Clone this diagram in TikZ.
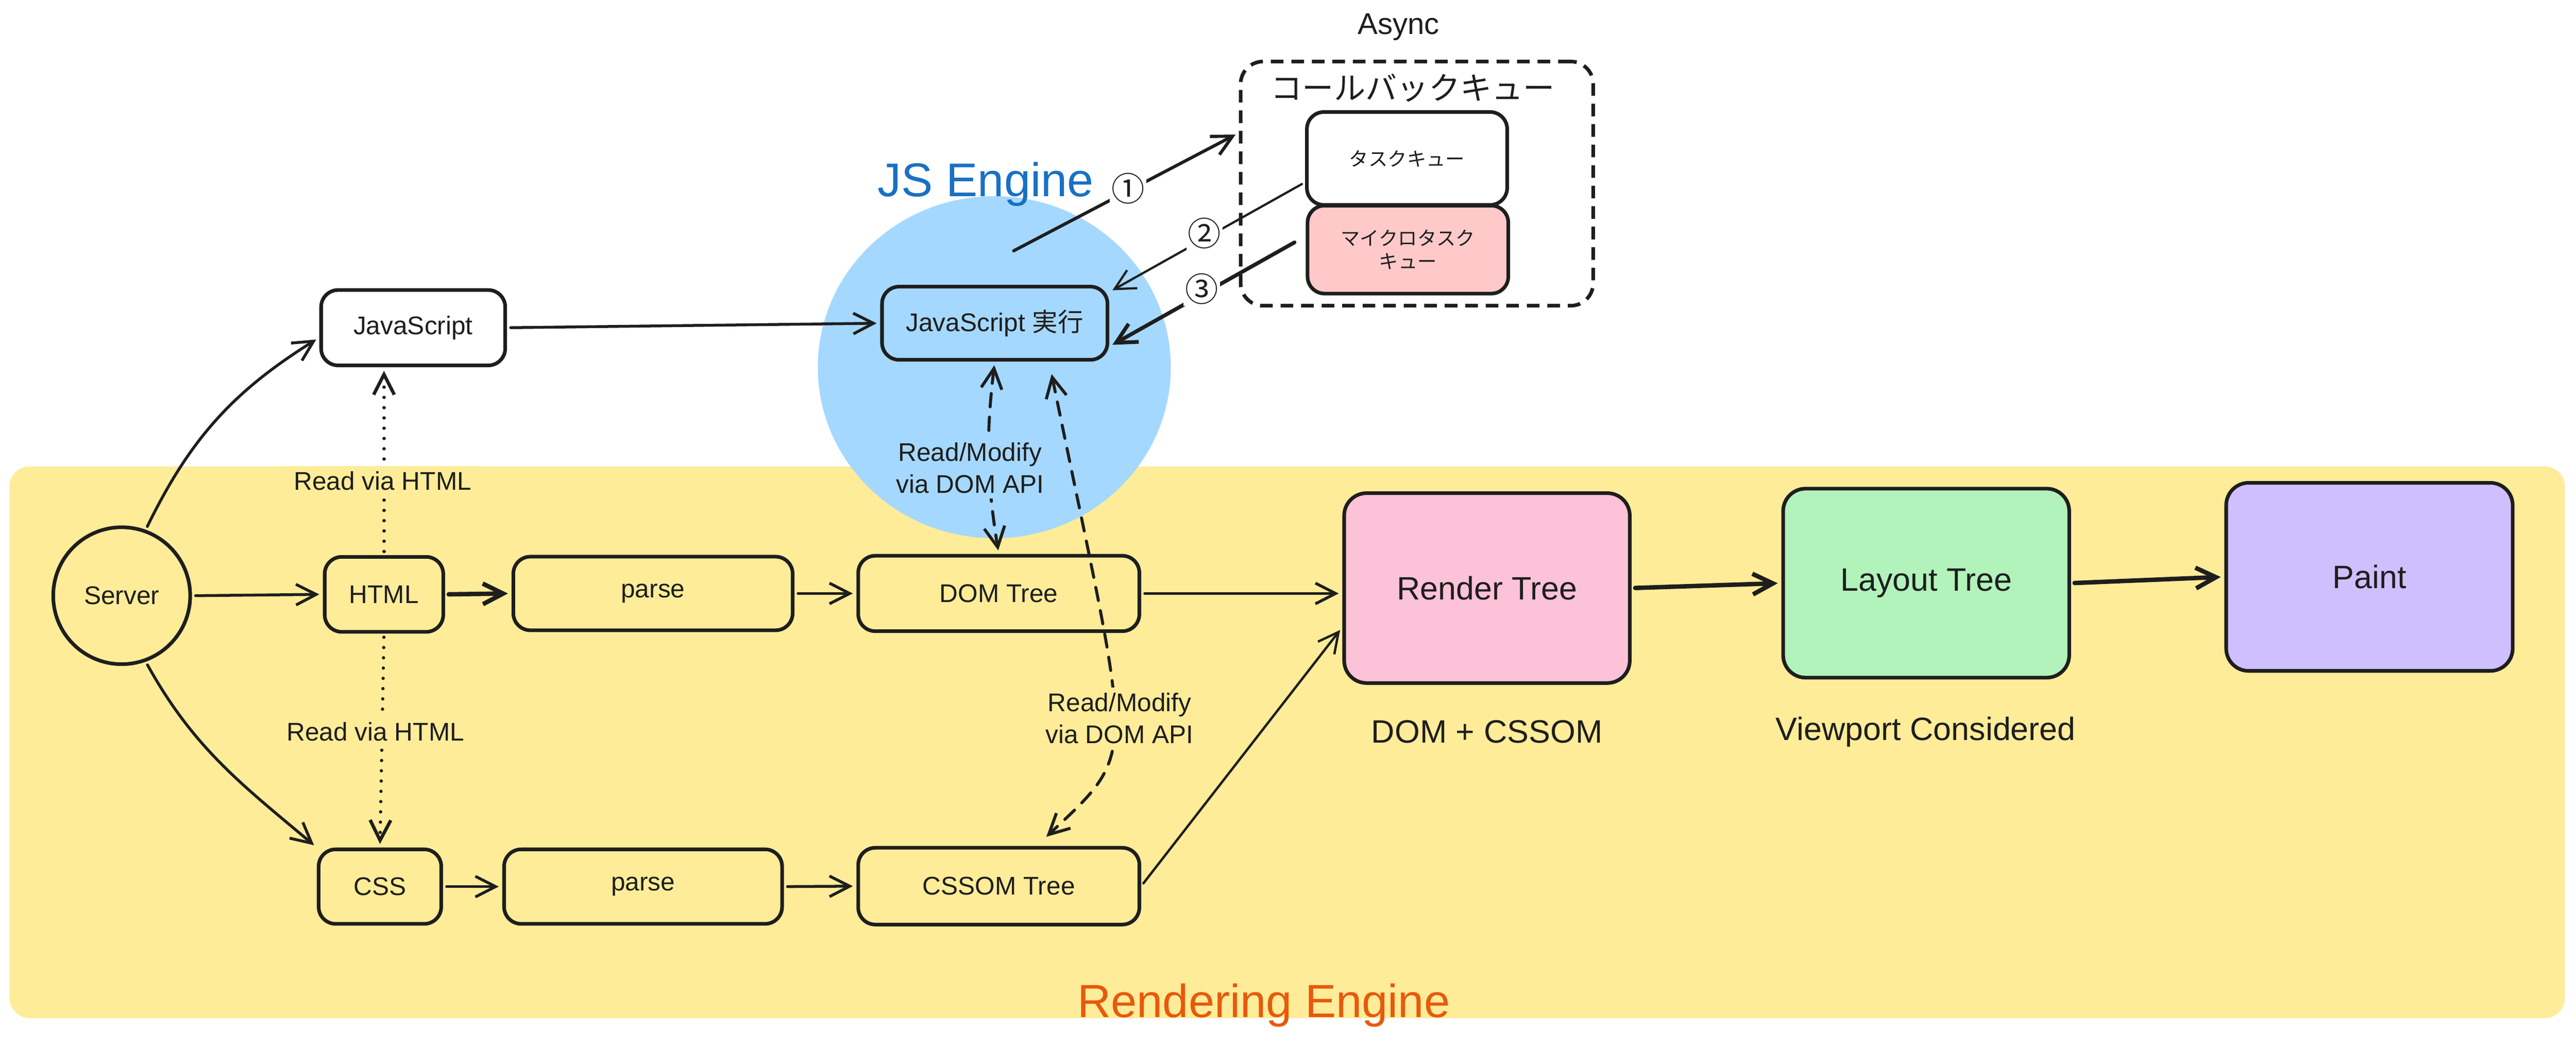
\documentclass[tikz,border=0pt]{standalone}
\usepackage{fontspec}
\setmainfont{Liberation Sans}
\newfontfamily\jp{Noto Sans CJK JP}
\usetikzlibrary{arrows.meta}

\definecolor{ink}{HTML}{1E1E1E}
\definecolor{bgyellow}{HTML}{FFEC99}
\definecolor{jsblue}{HTML}{A5D8FF}
\definecolor{jstext}{HTML}{1971C2}
\definecolor{rentext}{HTML}{E8590C}
\definecolor{micro}{HTML}{FFC9C9}
\definecolor{renderpink}{HTML}{FCC2D7}
\definecolor{layoutgreen}{HTML}{B2F2BB}
\definecolor{paintpurple}{HTML}{D0BFFF}

\begin{document}
\begin{tikzpicture}[
        >={Straight Barb[length=0.45cm, width=0.46cm]},
        every node/.style={text=ink},
        box/.style={draw=ink, line width=2.3pt, rounded corners=0.38cm, font=\fontsize{16.2}{19}\selectfont},
        bigbox/.style={box, rounded corners=0.5cm, font=\fontsize{20.5}{24}\selectfont},
        lbl/.style={font=\fontsize{16.2}{20.2}\selectfont, align=center, inner xsep=5pt, inner ysep=3.5pt},
        big/.style={font=\fontsize{20.5}{24}\selectfont},
        num/.style={font=\jp\fontsize{21}{24}\selectfont, fill=white, inner sep=1pt},
        arr/.style={draw=ink, line width=1.8pt, ->, line cap=round, line join=round, shorten <=0.08cm, shorten >=0.08cm},
        dotarr/.style={arr, line width=2.1pt, dash pattern=on 0.01pt off 6.5pt},
        dasharr/.style={arr, line width=1.9pt, dash pattern=on 8.5pt off 6.5pt}
    ]
        \useasboundingbox (0,0) rectangle (57.36,-23.34);

        % Hintergrund
        \fill[bgyellow, rounded corners=0.45cm] (0.21,-10.39) rectangle (57.11,-22.68);
        \fill[jsblue] (22.14,-8.18) ellipse [x radius=3.93, y radius=3.81];

        % Knoten
        \node[draw=ink, line width=2.3pt, circle, minimum size=3.05cm, inner sep=0pt, font=\fontsize{16.2}{19}\selectfont] (server) at (2.71,-13.27) {Server};
        \node[box, minimum width=4.10cm, minimum height=1.68cm] (js) at (9.20,-7.30) {JavaScript};
        \node[box, minimum width=2.64cm, minimum height=1.67cm] (html) at (8.55,-13.24) {HTML};
        \node[box, minimum width=6.22cm, minimum height=1.64cm] (parse1) at (14.54,-13.22) {parse};
        \node[box, minimum width=6.26cm, minimum height=1.68cm] (dom) at (22.24,-13.22) {DOM Tree};
        \node[box, minimum width=2.73cm, minimum height=1.66cm] (css) at (8.46,-19.75) {CSS};
        \node[box, minimum width=6.19cm, minimum height=1.66cm] (parse2) at (14.32,-19.75) {parse};
        \node[box, minimum width=6.26cm, minimum height=1.71cm] (cssom) at (22.24,-19.74) {CSSOM Tree};
        \node[bigbox, fill=renderpink, minimum width=6.36cm, minimum height=4.23cm] (render) at (33.11,-13.10) {Render Tree};
        \node[bigbox, fill=layoutgreen, minimum width=6.37cm, minimum height=4.21cm] (layout) at (42.89,-12.99) {Layout Tree};
        \node[bigbox, fill=paintpurple, minimum width=6.38cm, minimum height=4.19cm] (paint) at (52.76,-12.85) {Paint};
        \node[box, minimum width=5.02cm, minimum height=1.63cm] (jsrun) at (22.15,-7.20) {JavaScript {\jp 実行}};

        % Callback-Queue
        \node[draw=ink, line width=2.3pt, dash pattern=on 8pt off 5pt, rounded corners=0.5cm, minimum width=7.85cm, minimum height=5.44cm] (cbq) at (31.55,-4.09) {};
        \node[font=\jp\fontsize{20}{24}\selectfont] (cbqtitle) at (31.46,-1.96) {コールバックキュー};
        \node[box, fill=white, minimum width=4.46cm, minimum height=2.07cm, font=\jp\fontsize{12.2}{15}\selectfont] (taskq) at (31.33,-3.53) {タスクキュー};
        \node[box, fill=micro, minimum width=4.47cm, minimum height=1.96cm, align=center, font=\jp\fontsize{12.2}{14.8}\selectfont] (microq) at (31.35,-5.56) {マイクロタスク\\キュー};

        % Titel
        \node[font=\fontsize{19}{22}\selectfont] (async) at (31.14,-0.60) {Async};
        \node[font=\fontsize{30}{34}\selectfont, text=jstext] (jsengine) at (21.95,-4.10) {JS Engine};
        \node[font=\fontsize{29.5}{34}\selectfont, text=rentext] (reneng) at (28.14,-22.40) {Rendering Engine};
        \node[big] (domcssom) at (33.11,-16.30) {DOM + CSSOM};
        \node[big] (viewport) at (42.88,-16.30) {Viewport Considered};

        % Pfeile
        \draw[arr] (server.east) -- (html.west);
        \draw[arr] (server.70) to[out=64, in=212] ([yshift=-0.22cm]js.west);
        \draw[arr] (server.-70) to[out=-61, in=140] (css.north west);
        \draw[arr, line width=2.8pt] (html.east) -- (parse1.west);
        \draw[arr] (parse1.east) -- (dom.west);
        \draw[arr] (css.east) -- (parse2.west);
        \draw[arr] (parse2.east) -- (cssom.west);
        \draw[arr] (dom.east) -- (dom.east -| render.west);
        \draw[arr, line width=1.5pt] (cssom.east) -- ([yshift=-0.87cm]render.west);
        \draw[arr, line width=2.8pt] (render.east) -- (layout.west);
        \draw[arr, line width=2.8pt] (layout.east) -- (paint.west);
        \draw[arr] (js.east) -- (jsrun.west);

        \draw[dotarr] (html.north) -- (html.north |- js.south);
        \draw[dotarr] (html.south) -- (css.north);
        \draw[dasharr, <->] (jsrun.south) to[bend right=8] (dom.north);
        \draw[dasharr, <->] ([xshift=1.25cm, yshift=-0.2cm]jsrun.south) .. controls (25.20,-17.03) and (25.41,-16.66) .. ([xshift=1cm, yshift=0.15cm]cssom.north);

        \draw[arr, line width=2pt] ([xshift=0.35cm, yshift=0.72cm]jsrun.north) -- ([yshift=1.13cm]cbq.west);
        \draw[arr, line width=1.4pt] ([yshift=-0.53cm]taskq.west) -- ([yshift=-0.16cm]jsrun.north east);
        \draw[arr, line width=2.4pt] ([xshift=-0.18cm, yshift=0.2cm]microq.west) -- ([yshift=-0.52cm]jsrun.east);

        % Beschriftungen
        \node[lbl, fill=bgyellow] (rv1) at (8.52,-10.71) {Read via HTML};
        \node[lbl, fill=bgyellow] (rv2) at (8.36,-16.30) {Read via HTML};
        \node[lbl, fill=jsblue] (rm1) at (21.60,-10.42) {Read/Modify\\via DOM API};
        \node[lbl, fill=bgyellow] (rm2) at (24.93,-16.00) {Read/Modify\\via DOM API};
        \node[num] (n1) at (25.12,-4.20) {①};
        \node[num] (n2) at (26.82,-5.20) {②};
        \node[num] (n3) at (26.76,-6.44) {③};
    \end{tikzpicture}
\end{document}
